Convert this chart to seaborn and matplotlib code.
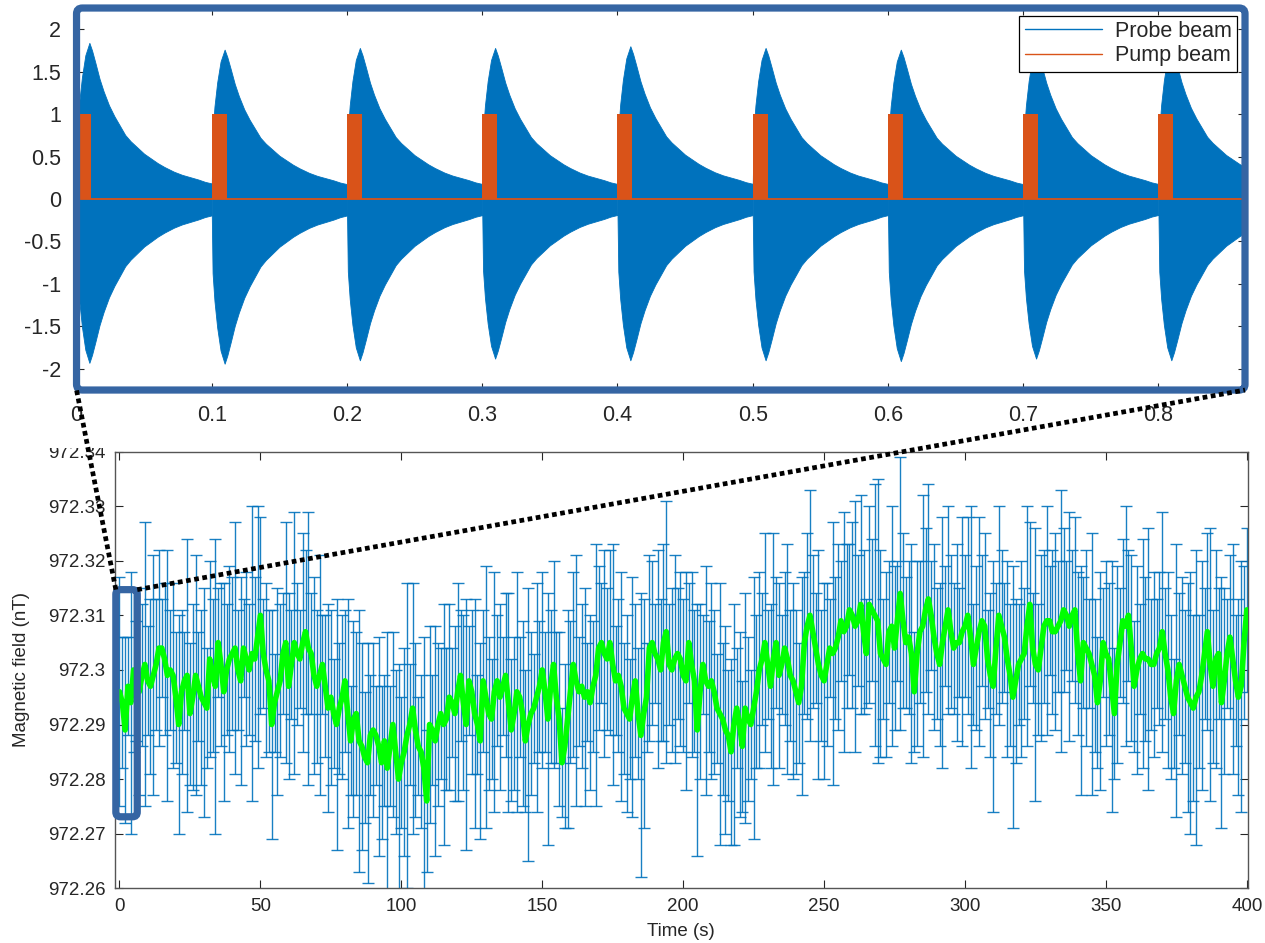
import numpy as np
import matplotlib
matplotlib.use("Agg")
import matplotlib.pyplot as plt
import seaborn as sns
from matplotlib.patches import FancyBboxPatch, Rectangle
from matplotlib.lines import Line2D

# =========================
# Top panel: probe / pump beam over one record (s)
# =========================
record_end = 0.865
pump_start = [0.0, 0.1, 0.2, 0.3, 0.4, 0.5, 0.6, 0.7, 0.8]
pump_width = 0.011
pump_level = 1.0
probe_peak = [1.84, 1.76, 1.78, 1.78, 1.80, 1.78, 1.76, 1.78, 1.79]
probe_trough = [-1.93, -1.94, -1.90, -1.88, -1.90, -1.90, -1.91, -1.88, -1.90]
# probe envelope after each pump pulse: time since pulse start, fraction of peak
env_dt = [0.0, 0.0006, 0.002, 0.004, 0.0065, 0.0095, 0.0115, 0.014, 0.017,
          0.020, 0.024, 0.028, 0.032, 0.036, 0.040, 0.045, 0.050, 0.055,
          0.060, 0.065, 0.072, 0.078, 0.084, 0.090, 0.095, 0.0999]
env_frac = [0.09, 0.45, 0.62, 0.78, 0.92, 1.0, 0.95, 0.87, 0.77,
            0.69, 0.60, 0.53, 0.47, 0.41, 0.37, 0.33, 0.29, 0.26,
            0.23, 0.205, 0.175, 0.155, 0.14, 0.125, 0.11, 0.10]

# =========================
# Bottom panel: field vs time
# =========================
B0 = 972.3
time_s = np.arange(0, 401)
# deviation from 972.3 nT, in pT, one value per second
field_dev_pT = [
    -4, -6, -11, -3, -6, 0, -2, -4, -1, 1, -2, -3, -1, 1, 4, 4, 2, -1, 0, -1,
    -5, -10, -4, -2, -1, -8, -5, -1, -3, -5, -6, -7, 2, -1, -3, 5, 1, -4, 0, 2,
    3, 4, 0, -2, 4, 2, 0, 3, 2, 6, 10, 3, 0, -2, -10, -6, -4, -2, 3, 5,
    -3, 1, 5, 3, 2, 5, 7, 4, 3, -1, -3, -1, 1, -3, -7, -5, -8, -10, -7, -5,
    -2, -8, -13, -9, -8, -13, -14, -16, -17, -12, -11, -12, -14, -17, -13, -18, -14, -10, -15, -20,
    -17, -15, -12, -10, -7, -11, -14, -15, -18, -24, -10, -11, -13, -10, -8, -10, -9, -5, -6, -8,
    -4, -1, -6, -10, -2, -4, -8, -10, -13, -2, -5, -8, -9, -4, -2, -5, -3, -1, -6, -11,
    -8, -4, -5, -8, -13, -10, -8, -7, -5, -3, 0, -4, -9, -3, 1, -5, -9, -17, -14, -9,
    -4, 1, -2, -4, -3, -5, -4, -6, -3, -1, 4, 5, 3, 2, 5, 1, -2, -1, -3, -7,
    -8, -9, -5, -2, -8, -12, -8, -5, 4, 5, 3, 2, 0, 5, 7, 1, 0, 2, 3, 2,
    -1, -2, 5, 1, -2, -11, -4, 1, -2, -3, -2, -4, -7, -8, -9, -11, -12, -15, -10, -7,
    -10, -14, -7, -9, -10, -7, -4, 0, 2, 5, 1, -3, 2, 5, -1, 1, 4, 2, -1, -2,
    -4, -6, -3, 5, 8, 10, 7, 4, 1, -1, -2, 1, 4, 3, 4, 6, 9, 7, 8, 11,
    10, 8, 9, 12, 7, 3, 12, 11, 10, 9, 3, 2, 1, 7, 8, 4, 9, 14, 9, 5,
    6, 3, -4, 3, 7, 8, 11, 13, 10, 6, 3, 1, 5, 8, 11, 7, 4, 5, 5, 7,
    8, 10, 6, 1, 4, 7, 9, 8, 2, -1, -3, 4, 10, 8, 6, 2, -1, -5, -2, 1,
    2, 3, 8, 12, 4, 1, 0, 4, 8, 9, 9, 7, 7, 8, 9, 11, 10, 8, 10, 11,
    3, -2, 5, 4, 3, 1, -1, -6, -2, 5, 3, 2, -3, -8, 1, 5, 9, 8, 10, 4,
    -3, 0, 2, 3, 2, 2, 1, 1, 3, 4, 7, 3, 0, -5, -8, -2, 1, -1, -3, -5,
    -6, -7, -5, -4, -1, 3, 7, 1, -3, 2, 3, -6, -2, 3, 6, 2, -2, -5, -3, 5,
    11,
]
# error bar half-widths, pT
field_err_pT = [
    21, 12, 17, 9, 24, 15, 11, 19, 13, 26, 10, 16, 22, 12, 18, 9, 14, 23, 11, 17,
    12, 20, 15, 9, 25, 13, 17, 22, 10, 16, 21, 11, 18, 14, 27, 10, 15, 20, 12, 17,
    14, 23, 11, 19, 9, 16, 12, 27, 15, 24, 18, 10, 16, 13, 21, 9, 19, 14, 11, 22,
    17, 10, 24, 13, 9, 20, 15, 25, 11, 18, 14, 22, 9, 13, 19, 16, 10, 23, 12, 15,
    13, 21, 10, 18, 15, 24, 19, 12, 22, 11, 16, 9, 20, 14, 12, 25, 11, 17, 15, 21,
    12, 19, 28, 11, 23, 16, 9, 14, 24, 13, 18, 10, 21, 15, 12, 22, 13, 17, 10, 16,
    20, 12, 16, 23, 10, 15, 21, 9, 18, 13, 24, 14, 11, 22, 12, 17, 9, 15, 20, 13,
    14, 22, 11, 17, 13, 25, 15, 10, 21, 12, 18, 11, 23, 14, 19, 12, 16, 10, 15, 20,
    13, 17, 23, 10, 15, 20, 9, 16, 12, 24, 15, 11, 19, 13, 17, 22, 10, 14, 21, 12,
    18, 11, 22, 14, 12, 26, 21, 10, 17, 15, 9, 20, 13, 18, 24, 11, 15, 19, 12, 16,
    14, 20, 11, 17, 13, 23, 16, 9, 21, 12, 18, 15, 10, 24, 14, 19, 12, 17, 22, 11,
    17, 12, 21, 15, 10, 24, 14, 18, 12, 20, 10, 15, 23, 12, 17, 9, 14, 21, 12, 18,
    15, 11, 20, 13, 17, 23, 14, 10, 21, 12, 18, 15, 9, 24, 13, 17, 11, 22, 15, 12,
    17, 23, 12, 20, 15, 10, 18, 13, 24, 26, 19, 11, 17, 13, 22, 15, 11, 25, 16, 12,
    14, 20, 11, 17, 13, 24, 15, 21, 10, 17, 12, 15, 23, 11, 19, 14, 12, 18, 10, 21,
    13, 18, 24, 11, 15, 21, 12, 17, 9, 15, 23, 12, 20, 14, 10, 18, 13, 24, 15, 11,
    18, 12, 22, 15, 10, 25, 12, 17, 14, 21, 10, 15, 18, 12, 24, 15, 10, 21, 12, 17,
    15, 21, 12, 18, 10, 24, 14, 12, 20, 10, 17, 14, 23, 12, 18, 10, 15, 22, 12, 17,
    12, 19, 10, 21, 15, 24, 12, 17, 10, 14, 22, 12, 18, 15, 10, 25, 13, 18, 14, 21,
    24, 17, 27, 14, 21, 12, 18, 25, 14, 20, 12, 23, 17, 10, 15, 21, 12, 18, 23, 14,
    15,
]
field = B0 + np.array(field_dev_pT) / 1000.0
field_err = np.array(field_err_pT) / 1000.0

# zoom box (bottom panel data coords)
zoom_x = (-1.3, 6.3)
zoom_y = (972.2731, 972.3147)

PROBE = "#0072BD"
PUMP = "#D95319"
GREEN = "#00FF00"
FRAME = "#3565A3"
TXT = "#262626"

sns.set_theme(style="ticks")
plt.rcParams["font.family"] = ["Liberation Sans", "DejaVu Sans"]
plt.rcParams["axes.unicode_minus"] = False
plt.rcParams["text.color"] = TXT
plt.rcParams["axes.labelcolor"] = TXT
plt.rcParams["xtick.color"] = TXT
plt.rcParams["ytick.color"] = TXT

fig = plt.figure(figsize=(12.65, 9.43), dpi=100)
ax2 = fig.add_axes([0.0909, 0.0580, 0.8954, 0.4632])
ax1 = fig.add_axes([0.0605, 0.5864, 0.9237, 0.4051])
ax2.set_zorder(0)
ax1.set_zorder(2)

# white strip that hides the upper part of the bottom panel labels
fig.add_artist(Rectangle((0, 0.5249), 1, 0.48, transform=fig.transFigure,
                         fc="white", ec="none", zorder=1))

# ---------- top panel ----------
env_dt_arr = np.array(env_dt)
env_frac_arr = np.array(env_frac)
for i, t0 in enumerate(pump_start):
    t = t0 + env_dt_arr
    keep = t <= record_end + 1e-9
    ax1.fill_between(t[keep], env_frac_arr[keep] * probe_trough[i],
                     env_frac_arr[keep] * probe_peak[i],
                     color=PROBE, linewidth=0.6, edgecolor=PROBE, zorder=2)
ax1.plot([0, record_end], [0, 0], color=PUMP, lw=1.3, zorder=3)
ax1.bar(pump_start, pump_level, width=pump_width, align="edge",
        color=PUMP, linewidth=0, zorder=3)

h1, = ax1.plot([], [], color=PROBE, lw=1, label="Probe beam")
h2, = ax1.plot([], [], color=PUMP, lw=1, label="Pump beam")
leg = ax1.legend(handles=[h1, h2], loc="upper right", fontsize=15.5,
                 frameon=True, fancybox=False, edgecolor="black",
                 framealpha=1, handlelength=3.6, borderaxespad=0.35,
                 borderpad=0.25, labelspacing=0.15, handletextpad=0.6)
leg.get_frame().set_linewidth(0.9)

ax1.set_xlim(0, 0.864)
ax1.set_ylim(-2.25, 2.25)
ax1.set_xticks([0, 0.1, 0.2, 0.3, 0.4, 0.5, 0.6, 0.7, 0.8])
ax1.set_xticklabels(["0", "0.1", "0.2", "0.3", "0.4", "0.5", "0.6", "0.7", "0.8"])
ax1.set_yticks([-2, -1.5, -1, -0.5, 0, 0.5, 1, 1.5, 2])
ax1.set_yticklabels(["-2", "-1.5", "-1", "-0.5", "0", "0.5", "1", "1.5", "2"])
ax1.tick_params(direction="in", top=True, right=True, length=5, width=0.8,
                labelsize=15.5, pad=11)
for s in ax1.spines.values():
    s.set_visible(False)
ax1.add_patch(FancyBboxPatch((0, 0), 1, 1, boxstyle="round,pad=0,rounding_size=0.005",
                             mutation_aspect=3.06, transform=ax1.transAxes,
                             fill=False, ec=FRAME, lw=5.2, clip_on=False, zorder=6))

# ---------- bottom panel ----------
ax2.errorbar(time_s, field, yerr=field_err, color=PROBE, lw=1.0,
             elinewidth=1.0, capsize=4, capthick=1.0, alpha=0.9, zorder=2)
sns.lineplot(x=time_s, y=field, ax=ax2, color=GREEN, lw=4.0, zorder=3)

ax2.set_xlim(-1.6, 400.3)
ax2.set_ylim(972.26, 972.34)
yt = [972.26, 972.27, 972.28, 972.29, 972.30, 972.31, 972.32, 972.33, 972.34]
ax2.set_yticks(yt)
ax2.set_yticklabels([f"{v:g}" for v in yt])
ax2.set_xticks([0, 50, 100, 150, 200, 250, 300, 350, 400])
ax2.tick_params(direction="in", top=True, right=True, length=6, width=0.8,
                labelsize=13.5, pad=7)
for s in ax2.spines.values():
    s.set_color("#555555")
    s.set_linewidth(1.0)
ax2.set_xlabel("Time (s)", fontsize=13.5, labelpad=6)
ax2.set_ylabel("Magnetic field (nT)", fontsize=13.5, labelpad=13)

ax2.add_patch(FancyBboxPatch((zoom_x[0], zoom_y[0]), zoom_x[1] - zoom_x[0],
                             zoom_y[1] - zoom_y[0],
                             boxstyle="round,pad=0,rounding_size=1.7",
                             mutation_aspect=0.00052, fill=False, ec=FRAME,
                             lw=5.2, clip_on=False, zorder=5))

# dotted guide lines from zoom box corners to the top panel corners
to_fig = fig.transFigure.inverted()
for xa, xb in [(zoom_x[0], 0), (zoom_x[1], 1)]:
    pa = to_fig.transform(ax2.transData.transform((xa, zoom_y[1])))
    pb = to_fig.transform(ax1.transAxes.transform((xb, 0)))
    fig.add_artist(Line2D([pa[0], pb[0]], [pa[1], pb[1]],
                          transform=fig.transFigure, color="black", lw=3.4,
                          linestyle=(0, (1.0, 0.75)), dash_capstyle="butt",
                          zorder=7))

fig.savefig("out.png", dpi=100)
